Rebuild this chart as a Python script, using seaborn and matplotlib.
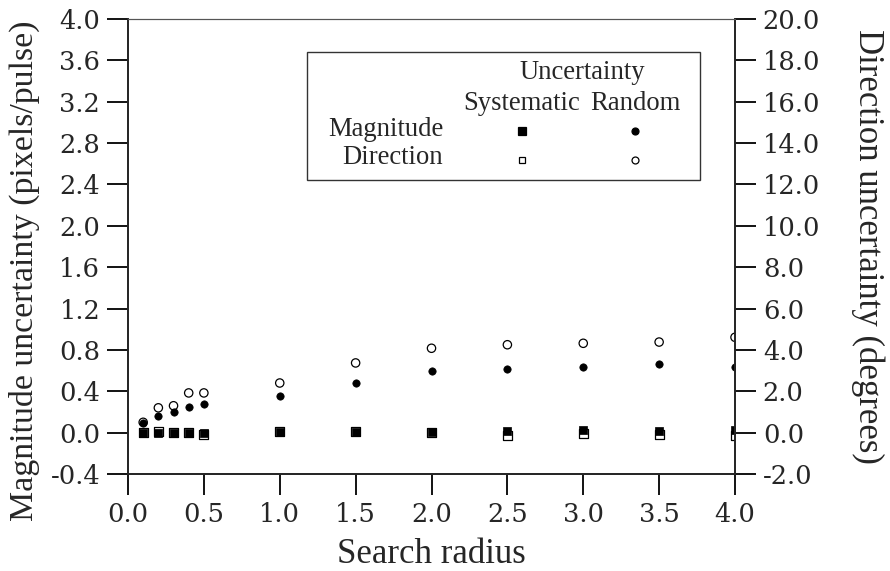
import matplotlib
matplotlib.use("Agg")
import matplotlib.pyplot as plt
from matplotlib.lines import Line2D
from matplotlib.patches import Rectangle
from matplotlib.ticker import FormatStrFormatter, MultipleLocator
import seaborn as sns
import pandas as pd

radius = [0.1, 0.2, 0.3, 0.4, 0.5, 1.0, 1.5, 2.0, 2.5, 3.0, 3.5, 4.0]
mag_systematic = [0.0, 0.0, 0.0, 0.0, 0.0, 0.01, 0.01, 0.01, 0.02, 0.03, 0.02, 0.03]
mag_random = [0.09, 0.16, 0.20, 0.25, 0.28, 0.35, 0.48, 0.60, 0.62, 0.63, 0.66, 0.63]
dir_systematic = [0.0, 0.05, 0.0, 0.0, -0.1, 0.05, 0.05, 0.0, -0.12, -0.03, -0.1, -0.12]
dir_random = [0.5, 1.2, 1.3, 1.92, 1.92, 2.4, 3.37, 4.08, 4.25, 4.32, 4.38, 4.61]

df = pd.DataFrame({"radius": radius, "mag_sys": mag_systematic, "mag_rand": mag_random,
                   "dir_sys": dir_systematic, "dir_rand": dir_random})

sns.set_style("ticks")
plt.rcParams["font.family"] = ["Liberation Serif", "DejaVu Serif"]

fig = plt.figure(figsize=(8.9, 5.71), dpi=100)
ax = fig.add_axes([128/890, 1-474/571, (735-128)/890, (474-19)/571])
ax2 = ax.twinx()

sns.scatterplot(data=df, x="radius", y="mag_sys", ax=ax, marker="s", color="black",
                edgecolor="black", s=40, linewidth=0.5, zorder=3)
sns.scatterplot(data=df, x="radius", y="mag_rand", ax=ax, marker="o", color="black",
                edgecolor="black", s=28, linewidth=0.5, zorder=3)
sns.scatterplot(data=df, x="radius", y="dir_sys", ax=ax2, marker="s", facecolor="none",
                edgecolor="black", s=40, linewidth=0.9, zorder=2)
sns.scatterplot(data=df, x="radius", y="dir_rand", ax=ax2, marker="o", facecolor="none",
                edgecolor="black", s=36, linewidth=0.9, zorder=2)

ax.set_xlim(0, 4.0)
ax.set_ylim(-0.4, 4.0)
ax2.set_ylim(-2.0, 20.0)
ax.xaxis.set_major_locator(MultipleLocator(0.5))
ax.yaxis.set_major_locator(MultipleLocator(0.4))
ax2.yaxis.set_major_locator(MultipleLocator(2.0))
for a in (ax.xaxis, ax.yaxis, ax2.yaxis):
    a.set_major_formatter(FormatStrFormatter("%.1f"))

tfs = 18.5
for a in (ax, ax2):
    a.tick_params(axis="both", direction="out", length=15, width=1.3, color="black",
                  labelsize=tfs, pad=5)
    for lab in a.get_xticklabels() + a.get_yticklabels():
        lab.set_fontfamily("DejaVu Serif")
        lab.set_fontsize(tfs)

for a in (ax, ax2):
    a.spines["left"].set_linewidth(1.3)
    a.spines["right"].set_linewidth(1.3)
    a.spines["bottom"].set_linewidth(1.3)
    a.spines["top"].set_linewidth(0.8)
    a.spines["top"].set_color("#555555")
    a.spines["left"].set_visible(True)
    a.spines["right"].set_visible(True)

ax.set_xlabel("Search radius", fontsize=25, labelpad=8)
ax.set_ylabel("Magnitude uncertainty (pixels/pulse)", fontsize=24.4, va="center")
ax.yaxis.set_label_coords((24-128)/607, (474-271)/455)
ax2.set_ylabel("Direction uncertainty (degrees)", fontsize=25, rotation=270, va="center")
ax2.yaxis.set_label_coords((868-128)/607, 0.5)

# legend box
fig.add_artist(Rectangle((307/890, 1-180/571), (700-307)/890, (180-52)/571,
                         transform=fig.transFigure, fill=False, edgecolor="#333333",
                         linewidth=1.0))
lf = 19.2
fig.text(582/890, 1-72/571, "Uncertainty", ha="center", va="center", fontsize=lf)
fig.text(522/890, 1-103/571, "Systematic", ha="center", va="center", fontsize=lf)
fig.text(635/890, 1-103/571, "Random", ha="center", va="center", fontsize=lf)
fig.text(443/890, 1-129/571, "Magnitude", ha="right", va="center", fontsize=lf)
fig.text(443/890, 1-158/571, "Direction", ha="right", va="center", fontsize=lf)
leg_marks = [
    (522, 131, "s", "black", 5.5),
    (635, 131, "o", "black", 5.0),
    (522, 160, "s", "none", 5.0),
    (635, 160, "o", "none", 5.0),
]
for x, y, m, fc, ms in leg_marks:
    fig.add_artist(Line2D([x/890], [1-y/571], marker=m, markersize=ms, markerfacecolor=fc,
                          markeredgecolor="black", markeredgewidth=0.9, linestyle="none",
                          transform=fig.transFigure))

fig.savefig("out.png", dpi=100)
